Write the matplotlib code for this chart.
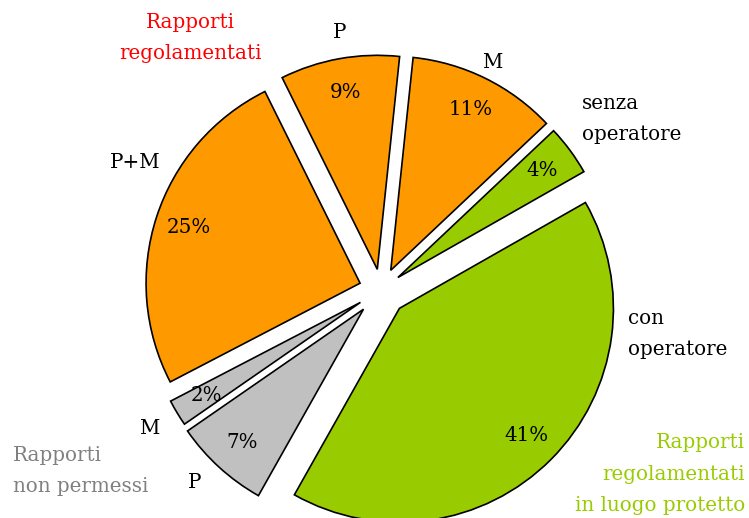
import matplotlib.pyplot as plt

# slices, clockwise from the top
names = ['M', 'senza\noperatore', 'con\noperatore', 'P', 'M', 'P+M', 'P']
values = [11.3, 3.8, 41.4, 7.2, 2.0, 25.3, 9.0]
colors = ['#FF9900', '#99CC00', '#99CC00', '#C0C0C0', '#C0C0C0', '#FF9900', '#FF9900']
explode = [22, 21, 26, 26, 24, 22, 21]

W, H = 749, 518
fig = plt.figure(figsize=(W / 100, H / 100), dpi=100)
ax = fig.add_axes([0, 0, 1, 1])
ax.set_xlim(0, W)
ax.set_ylim(0, H)
ax.set_aspect('equal')
ax.axis('off')

font = 'DejaVu Serif'
fs = 14.3
ls = 1.85

wedges, texts, autotexts = ax.pie(values, colors=colors, explode=explode,
                                  center=(381, H - 290), radius=214,
                                  startangle=84, counterclock=False,
                                  autopct='%.0f%%', pctdistance=0.84,
                                  wedgeprops=dict(edgecolor='black', linewidth=1.2),
                                  textprops=dict(fontsize=fs, family=font))
ax.set_xlim(0, W)
ax.set_ylim(0, H)

def t(x, y, s, **kw):
    ax.text(x, H - y, s, fontsize=fs, family=font, va='center', linespacing=ls, **kw)

# category labels
t(340, 33, names[6], ha='center')
t(493, 62, names[0], ha='center')
t(582, 119, names[1], ha='left')
t(628, 334, names[2], ha='left')
t(150, 428, names[4], ha='center')
t(195, 482, names[3], ha='center')
t(135, 162, names[5], ha='center')

# group labels
t(190, 38, 'Rapporti\nregolamentati', ha='center', color='#FF0000')
t(13, 471, 'Rapporti\nnon permessi', ha='left', color='#808080')
t(745, 474, 'Rapporti\nregolamentati\nin luogo protetto', ha='right', color='#99CC00')

fig.savefig('out.png', dpi=100)
